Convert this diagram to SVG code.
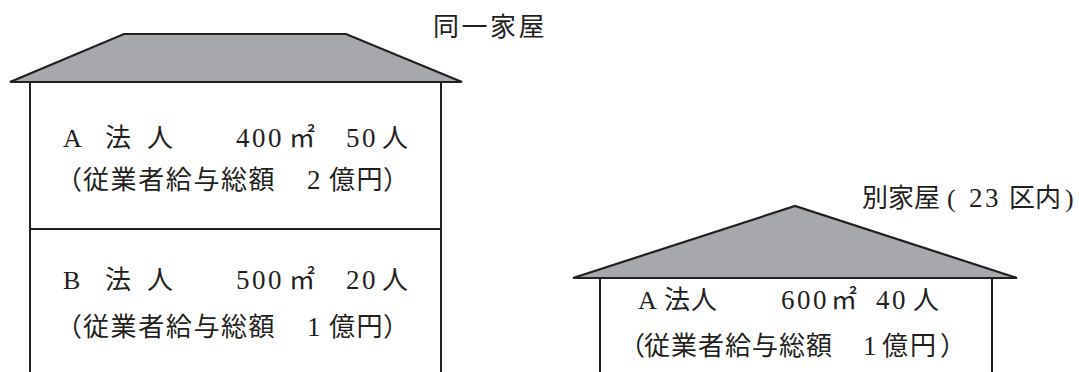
<svg xmlns="http://www.w3.org/2000/svg" width="1079" height="372" viewBox="0 0 1079 372">
<style>
.roof{fill:#a7a8ab;stroke:#231f20;stroke-width:2.2;stroke-linejoin:miter}
.wall{stroke:#231f20;stroke-width:2;fill:none}
.t{font-family:"Liberation Serif","Noto Sans CJK JP",serif;font-size:26px;fill:#231f20}
.d{font-size:27px;letter-spacing:2.5px}
.j{letter-spacing:1.6px}
</style>
<rect width="1079" height="372" fill="#ffffff"/>
<g id="house-same">
<polygon class="roof" points="10,82 124,34 346,34 462,82"/>
<line class="wall" x1="30" y1="82" x2="30" y2="372"/>
<line class="wall" x1="441" y1="82" x2="441" y2="372"/>
<line class="wall" x1="30" y1="229" x2="441" y2="229"/>
<text class="t" x="433" y="36" style="letter-spacing:2.5px">同一家屋</text>
</g>
<g id="room-a">
<text class="t" y="147"><tspan x="63">A</tspan><tspan x="105">法</tspan><tspan x="147">人</tspan><tspan x="236" class="d">400</tspan><tspan x="289">㎡</tspan><tspan x="346" class="d">50</tspan><tspan x="382">人</tspan></text>
<text class="t" y="189"><tspan x="56">（</tspan><tspan x="83" class="j">従業者給与総額</tspan><tspan x="307" class="d">2</tspan><tspan x="329" class="j">億円</tspan><tspan x="383">）</tspan></text>
</g>
<g id="room-b">
<text class="t" y="289"><tspan x="63">B</tspan><tspan x="105">法</tspan><tspan x="147">人</tspan><tspan x="236" class="d">500</tspan><tspan x="289">㎡</tspan><tspan x="346" class="d">20</tspan><tspan x="382">人</tspan></text>
<text class="t" y="336"><tspan x="56">（</tspan><tspan x="83" class="j">従業者給与総額</tspan><tspan x="307" class="d">1</tspan><tspan x="329" class="j">億円</tspan><tspan x="383">）</tspan></text>
</g>
<g id="house-other">
<polygon class="roof" points="573,278 795,206 1017,278"/>
<line class="wall" x1="600" y1="278" x2="600" y2="372"/>
<line class="wall" x1="992" y1="278" x2="992" y2="372"/>
<text class="t" y="207"><tspan x="862">別家屋</tspan><tspan x="947">(</tspan><tspan x="969" class="d">23</tspan><tspan x="1009">区内</tspan><tspan x="1065">)</tspan></text>
<text class="t" y="309"><tspan x="638">A</tspan><tspan x="664" style="letter-spacing:1px">法人</tspan><tspan x="781" class="d">600</tspan><tspan x="831">㎡</tspan><tspan x="876" class="d">40</tspan><tspan x="913">人</tspan></text>
<text class="t" y="355"><tspan x="619">（</tspan><tspan x="644" style="letter-spacing:1px">従業者給与総額</tspan><tspan x="863" class="d">1</tspan><tspan x="882" style="letter-spacing:2px">億円</tspan><tspan x="940">）</tspan></text>
</g>
</svg>
